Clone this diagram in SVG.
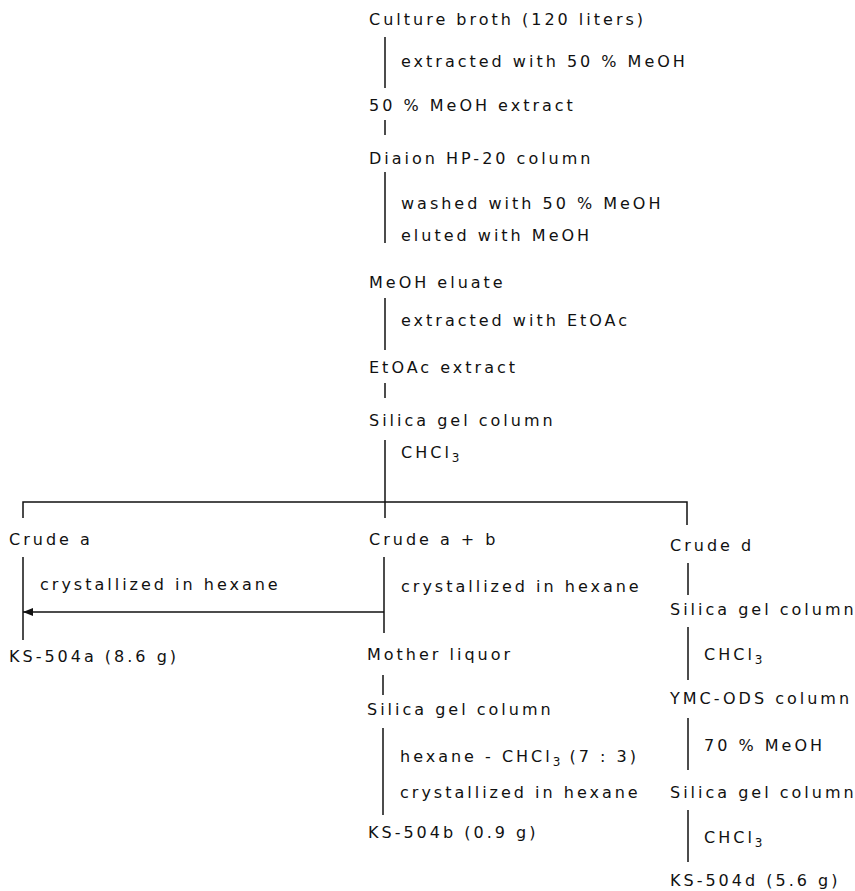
<svg xmlns="http://www.w3.org/2000/svg" width="855" height="891" viewBox="0 0 855 891">
<style>
text{font-family:"DejaVu Sans","Liberation Sans",Arial,sans-serif;font-size:16px;letter-spacing:3px;fill:#111}
.sub{font-size:12px;letter-spacing:1px}
.ln{stroke:#111;stroke-width:1.5;fill:none}
</style>
<defs>
<marker id="ah" markerWidth="10" markerHeight="8" refX="10" refY="4" orient="auto" markerUnits="userSpaceOnUse">
<path d="M0,0 L10,4 L0,8 Z" fill="#111"/>
</marker>
</defs>
<rect width="855" height="891" fill="#fff"/>
<g id="connectors">
<path class="ln" d="M385,37 V88"/>
<path class="ln" d="M385,120 V135"/>
<path class="ln" d="M385,172 V243"/>
<path class="ln" d="M385,298 V350"/>
<path class="ln" d="M385,383 V398"/>
<path class="ln" d="M385,440 V518"/>
<path class="ln" d="M23,518 V502 H687 V525"/>
<path class="ln" d="M23,557 V640"/>
<path class="ln" d="M384,557 V633"/>
<path class="ln" d="M384,612 H23" marker-end="url(#ah)"/>
<path class="ln" d="M383,675 V695"/>
<path class="ln" d="M383,728 V815"/>
<path class="ln" d="M688,563 V595"/>
<path class="ln" d="M688,627 V680"/>
<path class="ln" d="M688,718 V770"/>
<path class="ln" d="M688,810 V862"/>
</g>
<g id="culture"><text x="369" y="25">Culture broth (120 liters)</text></g>
<g id="step1"><text x="401" y="67">extracted with 50 % MeOH</text></g>
<g id="meoh50"><text x="369" y="111">50 % MeOH extract</text></g>
<g id="diaion"><text x="369" y="164">Diaion HP-20 column</text></g>
<g id="step2"><text x="401" y="209">washed with 50 % MeOH</text><text x="401" y="241">eluted with MeOH</text></g>
<g id="eluate"><text x="369" y="288">MeOH eluate</text></g>
<g id="step3"><text x="401" y="326">extracted with EtOAc</text></g>
<g id="etoac"><text x="369" y="373">EtOAc extract</text></g>
<g id="silica1"><text x="369" y="426">Silica gel column</text></g>
<g id="step4"><text x="401" y="458">CHCl<tspan class="sub" dy="4">3</tspan></text></g>
<g id="crudea"><text x="9" y="545">Crude a</text></g>
<g id="crudeab"><text x="369" y="545">Crude a + b</text></g>
<g id="cruded"><text x="670" y="551">Crude d</text></g>
<g id="step5"><text x="40" y="590">crystallized in hexane</text></g>
<g id="step6"><text x="401" y="592">crystallized in hexane</text></g>
<g id="ks504a"><text x="9" y="662">KS-504a (8.6 g)</text></g>
<g id="mother"><text x="367" y="660">Mother liquor</text></g>
<g id="silica2"><text x="367" y="715">Silica gel column</text></g>
<g id="step7"><text x="400" y="762">hexane - CHCl<tspan class="sub" dy="4">3</tspan><tspan dy="-4"> (7 : 3)</tspan></text><text x="400" y="798">crystallized in hexane</text></g>
<g id="ks504b"><text x="368" y="838">KS-504b (0.9 g)</text></g>
<g id="silica3"><text x="670" y="615">Silica gel column</text></g>
<g id="step8"><text x="704" y="660">CHCl<tspan class="sub" dy="4">3</tspan></text></g>
<g id="ymc"><text x="670" y="704">YMC-ODS column</text></g>
<g id="step9"><text x="704" y="751">70 % MeOH</text></g>
<g id="silica4"><text x="670" y="798">Silica gel column</text></g>
<g id="step10"><text x="704" y="843">CHCl<tspan class="sub" dy="4">3</tspan></text></g>
<g id="ks504d"><text x="670" y="886">KS-504d (5.6 g)</text></g>
</svg>
